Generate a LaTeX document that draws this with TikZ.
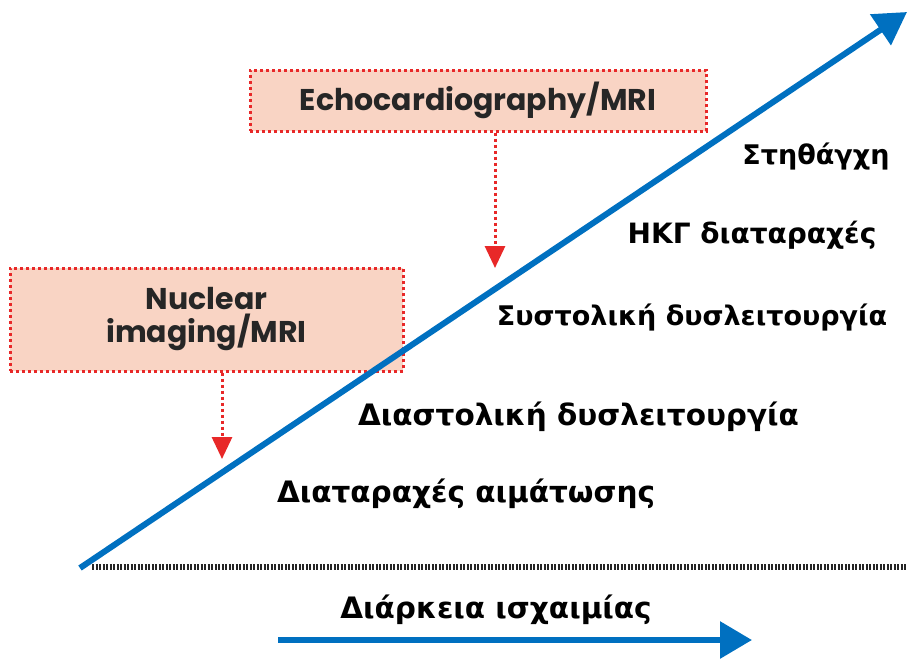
\documentclass[tikz,border=0pt]{standalone}
\usepackage{fontspec}
\setmainfont{DejaVu Sans}
\newfontfamily\boxfont{Poppins}
\usetikzlibrary{arrows.meta}
\definecolor{ischblue}{RGB}{0,112,192}
\definecolor{dotred}{RGB}{232,40,40}
\definecolor{boxfill}{RGB}{249,212,196}

\begin{document}
\begin{tikzpicture}[x=1pt,y=-1pt]
	\tikzstyle{box} = [draw = dotred, fill = boxfill, line width = 3pt, dash pattern = on 3pt off 3pt, inner sep = 0pt, font = \boxfont\bfseries\fontsize{30}{33}\selectfont, text = black!85, align = center]
	\tikzstyle{lbl} = [font = \bfseries\fontsize{27}{32}\selectfont, inner sep = 0pt]
	\tikzstyle{lblbig} = [font = \bfseries\fontsize{29.5}{34}\selectfont, inner sep = 0pt]
	\tikzstyle{redline} = [dotred, line width = 3pt, dash pattern = on 3pt off 3pt, -{Triangle[length=22pt,width=20pt,sep=0pt]}]
	\tikzstyle{blueline} = [ischblue, line width = 6pt, -{Triangle[length=32pt,width=36pt]}]
	\useasboundingbox (0,0) rectangle (907,662);
	% boxes
	\node(echo)[box, minimum width = 456pt, minimum height = 61pt] at (478,100.5) {Echocardiography/MRI};
	\node(nucl)[box, minimum width = 393pt, minimum height = 103pt] at (206.5,319.5) {Nuclear\\imaging/MRI};
	% labels
	\node(sth)[lbl] at (816,157) {Στηθάγχη};
	\node(hkg)[lbl, font = \bfseries\fontsize{28}{32}\selectfont] at (752,235) {ΗΚΓ διαταραχές};
	\node(sys)[lbl] at (692,318) {Συστολική δυσλειτουργία};
	\node(dia)[lblbig] at (578.5,417) {Διαστολική δυσλειτουργία};
	\node(aim)[lblbig] at (466,494) {Διαταραχές αιμάτωσης};
	\node(dur)[lblbig] at (496,610) {Διάρκεια ισχαιμίας};
	% end points
	\coordinate(s) at (80,568);
	\coordinate(t) at (907,12);
	\coordinate(b1) at (92,567);
	\coordinate(b2) at (907,567);
	\coordinate(d1) at (278,640);
	\coordinate(d2) at (752,640);
	\coordinate(ea) at (495,268);
	\coordinate(na) at (222,459);
	\draw[black!85, line width = 6pt, dash pattern = on 2pt off 1.5pt](b1) -- (b2);
	\draw[blueline](s) -- (t);
	\draw[blueline](d1) -- (d2);
	\draw[redline](echo.south -| ea) -- (ea);
	\draw[redline](nucl.south -| na) -- (na);
\end{tikzpicture}
\end{document}
